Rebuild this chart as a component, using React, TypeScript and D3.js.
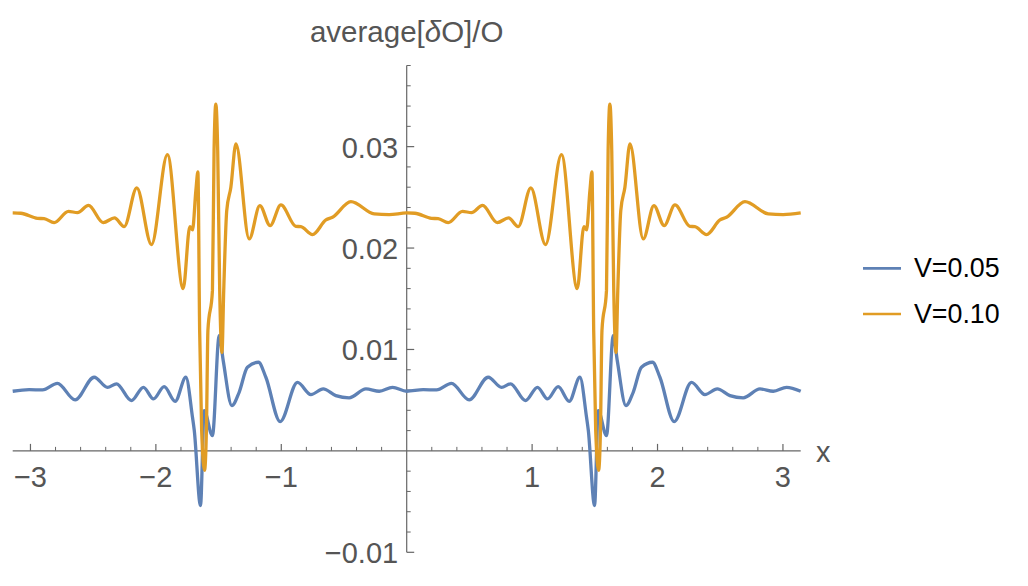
import React from "react";
import * as d3 from "d3";

const seriesNames = ["V=0.05", "V=0.10"];
const seriesColors = ["#5E81B5", "#E19C24"];

const xBlue = [
  -3.1416, -3.01, -2.904, -2.785, -2.644, -2.492, -2.386, -2.314, -2.195, -2.099, -2.019, -1.934, -1.846, -1.761,
  -1.708, -1.694, -1.644, -1.615, -1.549, -1.495, -1.463, -1.394, -1.336, -1.27, -1.182, -1.123, -1.009, -0.871,
  -0.764, -0.666, -0.565, -0.459, -0.325, -0.219, -0.113, 0,
  0.132, 0.238, 0.357, 0.498, 0.65, 0.756, 0.828, 0.947, 1.043, 1.123, 1.208, 1.296, 1.381,
  1.434, 1.448, 1.498, 1.527, 1.593, 1.647, 1.679, 1.748, 1.806, 1.872, 1.96, 2.019, 2.133, 2.271,
  2.378, 2.476, 2.577, 2.683, 2.817, 2.923, 3.029, 3.1416,
];
const yBlue = [
  0.00588, 0.00604, 0.00601, 0.00666, 0.00503, 0.00726, 0.00627, 0.00661, 0.00496, 0.00627, 0.00513, 0.00634, 0.00489, 0.00726,
  0.00331, 0.00203, -0.00539, 0.00397, 0.00151, 0.01137, 0.0089, 0.00447, 0.00578, 0.00824, 0.00874, 0.00726, 0.00289, 0.00676,
  0.00555, 0.00611, 0.00545, 0.00523, 0.00611, 0.00588, 0.00627, 0.00588,
  0.00604, 0.00601, 0.00666, 0.00503, 0.00726, 0.00627, 0.00661, 0.00496, 0.00627, 0.00513, 0.00634, 0.00489, 0.00726,
  0.00331, 0.00203, -0.00539, 0.00397, 0.00151, 0.01137, 0.0089, 0.00447, 0.00578, 0.00824, 0.00874, 0.00726, 0.00289, 0.00676,
  0.00555, 0.00611, 0.00545, 0.00523, 0.00611, 0.00588, 0.00627, 0.00588,
];

const xOrange = [
  -3.1416, -3.077, -2.944, -2.891, -2.811, -2.697, -2.625, -2.537, -2.42, -2.33, -2.253, -2.152, -2.035, -1.908,
  -1.782, -1.729, -1.708, -1.681, -1.665, -1.651, -1.635, -1.612, -1.597, -1.585, -1.549, -1.536, -1.522, -1.507,
  -1.491, -1.473, -1.459, -1.435, -1.402, -1.362, -1.256, -1.171, -1.089, -1.003, -0.884, -0.844, -0.751, -0.644,
  -0.592, -0.445, -0.259, -0.14, 0,
  0.065, 0.198, 0.251, 0.331, 0.445, 0.517, 0.605, 0.722, 0.812, 0.889, 0.99, 1.107, 1.234,
  1.36, 1.413, 1.434, 1.461, 1.477, 1.491, 1.507, 1.53, 1.545, 1.557, 1.593, 1.606, 1.62, 1.635,
  1.651, 1.669, 1.683, 1.707, 1.74, 1.78, 1.886, 1.971, 2.053, 2.139, 2.258, 2.298, 2.391, 2.498,
  2.55, 2.697, 2.883, 3.002, 3.1416,
];
const yOrange = [
  0.02346, 0.02343, 0.02293, 0.0229, 0.02251, 0.02362, 0.02349, 0.02421, 0.02251, 0.02297, 0.02211, 0.02593, 0.02034, 0.02921,
  0.016, 0.02211, 0.02179, 0.02568, 0.0275, 0.01189, 0.00203, -0.00192, 0.00203, 0.01189, 0.0158, 0.0296, 0.0342, 0.0296,
  0.0158, 0.0097, 0.0158, 0.0237, 0.026, 0.03027, 0.0209, 0.02418, 0.02221, 0.02425, 0.02214, 0.02211, 0.02133, 0.02277,
  0.02303, 0.02458, 0.02337, 0.0233, 0.02346,
  0.02343, 0.02293, 0.0229, 0.02251, 0.02362, 0.02349, 0.02421, 0.02251, 0.02297, 0.02211, 0.02593, 0.02034, 0.02921,
  0.016, 0.02211, 0.02179, 0.02568, 0.0275, 0.01189, 0.00203, -0.00192, 0.00203, 0.01189, 0.0158, 0.0296, 0.0342, 0.0296,
  0.0158, 0.0097, 0.0158, 0.0237, 0.026, 0.03027, 0.0209, 0.02418, 0.02221, 0.02425, 0.02214, 0.02211, 0.02133, 0.02277,
  0.02303, 0.02458, 0.02337, 0.0233, 0.02346,
];

const xMajorTicks = [-3, -2, -1, 1, 2, 3];
const xMajorLabels = ["\u22123", "\u22122", "\u22121", "1", "2", "3"];
const yMajorTicks = [-0.01, 0.01, 0.02, 0.03];
const yMajorLabels = ["\u22120.01", "0.01", "0.02", "0.03"];

const W = 1028;
const H = 586;
const FONT = "'Liberation Sans', Arial, Helvetica, sans-serif";
const AXIS = "#666666";
const LABEL = "#555555";

export default function App() {
  const x = d3.scaleLinear().domain([-Math.PI, Math.PI]).range([12.7, 800.7]);
  const y = d3.scaleLinear().domain([-0.01, 0.038]).range([552.3, 65.5]);

  const xMinor = d3.range(-3.2, 3.2001, 0.2)
    .map((v) => Math.round(v * 10) / 10)
    .filter((v) => v >= -Math.PI && v <= Math.PI && Math.abs(v - Math.round(v)) > 0.01);
  const yMinor = d3.range(-0.01, 0.0381, 0.002)
    .map((v) => Math.round(v * 1000) / 1000)
    .filter((v) => Math.abs(v * 100 - Math.round(v * 100)) > 0.01);

  const line = d3
    .line<[number, number]>()
    .x((d) => x(d[0]))
    .y((d) => y(d[1]))
    .curve(d3.curveMonotoneX);

  const blue: [number, number][] = xBlue.map((v, i) => [v, yBlue[i]]);
  const orange: [number, number][] = xOrange.map((v, i) => [v, yOrange[i]]);
  const x0 = x(0);
  const y0 = y(0);

  return (
    <svg
      width={W}
      height={H}
      style={{ position: "absolute", left: 0, top: 0, background: "#fff" }}
      fontFamily={FONT}
    >
      {/* x axis */}
      <line x1={x(-Math.PI)} x2={x(Math.PI)} y1={y0} y2={y0} stroke={AXIS} strokeWidth={1.2} />
      {xMajorTicks.map((t) => (
        <line key={"xm" + t} x1={x(t)} x2={x(t)} y1={y0} y2={y0 - 7} stroke={AXIS} strokeWidth={1.2} />
      ))}
      {xMinor.map((t) => (
        <line key={"xn" + t} x1={x(t)} x2={x(t)} y1={y0} y2={y0 - 4} stroke={AXIS} strokeWidth={1} />
      ))}
      {xMajorTicks.map((t, i) => (
        <text key={"xl" + t} x={x(t)} y={y0 + 36} textAnchor="middle" fontSize={29} fill={LABEL}>
          {xMajorLabels[i]}
        </text>
      ))}
      <text x={816} y={462} fontSize={29} fill={LABEL}>x</text>

      {/* y axis */}
      <line x1={x0} x2={x0} y1={y(-0.01)} y2={y(0.038)} stroke={AXIS} strokeWidth={1.2} />
      {yMajorTicks.map((t) => (
        <line key={"ym" + t} x1={x0} x2={x0 + 7.5} y1={y(t)} y2={y(t)} stroke={AXIS} strokeWidth={1.2} />
      ))}
      {yMinor.map((t) => (
        <line key={"yn" + t} x1={x0} x2={x0 + 4} y1={y(t)} y2={y(t)} stroke={AXIS} strokeWidth={1} />
      ))}
      {yMajorTicks.map((t, i) => (
        <text key={"yl" + t} x={x0 - 8.5} y={y(t) + 11} textAnchor="end" fontSize={29} fill={LABEL}>
          {yMajorLabels[i]}
        </text>
      ))}
      <text x={x0} y={42} textAnchor="middle" fontSize={29.5} fill={LABEL}>
        average[<tspan fontStyle="italic">δ</tspan>O]/O
      </text>

      {/* series */}
      <path d={line(blue) || ""} fill="none" stroke={seriesColors[0]} strokeWidth={3.3} strokeLinejoin="round" />
      <path d={line(orange) || ""} fill="none" stroke={seriesColors[1]} strokeWidth={3.3} strokeLinejoin="round" />

      {/* legend */}
      {seriesNames.map((n, i) => (
        <g key={n}>
          <line x1={863} x2={901} y1={268.3 + i * 45.7} y2={268.3 + i * 45.7} stroke={seriesColors[i]} strokeWidth={2.7} />
          <text x={914} y={277 + i * 45.7} fontSize={26.8} fill="#000">
            {n}
          </text>
        </g>
      ))}
    </svg>
  );
}
